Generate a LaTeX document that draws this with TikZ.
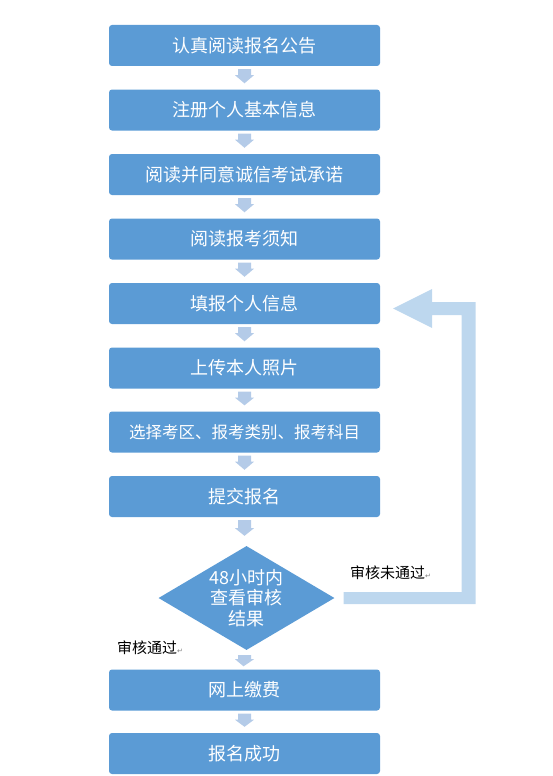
\documentclass[tikz,border=0pt]{standalone}
\usepackage{fontspec}
\newfontfamily\cjk{Noto Sans CJK SC}
\newfontfamily\djv{DejaVu Sans}
\usetikzlibrary{shapes.geometric,calc}
\definecolor{boxblue}{HTML}{5B9BD5}
\definecolor{arrblue}{HTML}{B4CBE8}
\definecolor{backblue}{HTML}{BDD7EE}
\tikzset{
  stepbox/.style={fill=boxblue, rounded corners=3pt, minimum width=271pt, minimum height=41pt, inner sep=0pt, text=white, font=\cjk\fontsize{18}{20}\selectfont},
  dia/.style={shape=diamond, fill=boxblue, minimum width=176pt, minimum height=104pt, inner sep=0pt},
  wtext/.style={text=white, align=center, font=\cjk\fontsize{18}{20.5}\selectfont},
  lbl/.style={text=black, font=\cjk\fontsize{15}{16}\selectfont, inner sep=0pt},
}
\newcommand{\retmark}{{\djv\fontsize{7}{8}\selectfont\textcolor{gray}{↵}}}
\newcommand{\blockarrow}[2]{%
  \fill[arrblue] ($(#1.south)+(-6.5,3)$) -- ($(#1.south)+(6.5,3)$) -- ($(#1.south)+(6.5,9)$) -- ($(#1.south)+(9.5,9)$) -- ($(#2.north)+(0,-6)$) -- ($(#1.south)+(-9.5,9)$) -- ($(#1.south)+(-6.5,9)$) -- cycle;}
\begin{document}
\begin{tikzpicture}[x=1pt,y=-1pt]
\useasboundingbox (0,0) rectangle (553,776);
\node[stepbox] (n1) at (244.5,45.5) {认真阅读报名公告};
\node[stepbox] (n2) at (244.5,110) {注册个人基本信息};
\node[stepbox] (n3) at (244.5,174.5) {阅读并同意诚信考试承诺};
\node[stepbox] (n4) at (244.5,239) {阅读报考须知};
\node[stepbox] (n5) at (244.5,303.5) {填报个人信息};
\node[stepbox] (n6) at (244.5,368) {上传本人照片};
\node[stepbox, font=\cjk\fontsize{16.5}{20}\selectfont] (n7) at (244.5,432) {选择考区、报考类别、报考科目};
\node[stepbox] (n8) at (244.5,496.5) {提交报名};
\node[dia] (d) at (246.5,598) {};
\node[wtext] (dt) at (d) {48小时内\\查看审核\\结果};
\node[stepbox] (n9) at (244.5,690) {网上缴费};
\node[stepbox] (n10) at (244.5,753.5) {报名成功};
\blockarrow{n1}{n2}
\blockarrow{n2}{n3}
\blockarrow{n3}{n4}
\blockarrow{n4}{n5}
\blockarrow{n5}{n6}
\blockarrow{n6}{n7}
\blockarrow{n7}{n8}
\fill[arrblue] ($(d.south)+(-8.5,5)$) -- ($(d.south)+(4.5,5)$) -- ($(d.south)+(4.5,9)$) -- ($(d.south)+(7.5,9)$) -- ($(n9.north)+(-1,-3)$) -- ($(d.south)+(-11.5,9)$) -- ($(d.south)+(-8.5,9)$) -- cycle;
\fill[arrblue] ($(n8.south)+(-6.5,3)$) -- ($(n8.south)+(6.5,3)$) -- ($(n8.south)+(6.5,11)$) -- ($(n8.south)+(9.5,11)$) -- ($(d.north)+(-2,-10)$) -- ($(n8.south)+(-9.5,11)$) -- ($(n8.south)+(-6.5,11)$) -- cycle;
\blockarrow{n9}{n10}
% feedback arrow
\coordinate (s1) at ($(d.east)+(9,-6)$);
\coordinate (s2) at ($(d.east)+(9,6)$);
\coordinate (t) at ($(n5.east)+(13,5)$);
\coordinate (vi) at ($(s1)+(118,0)$);
\coordinate (vo) at ($(s2)+(132,0)$);
\coordinate (hbot) at ($(t)+(39,6.5)$);
\coordinate (htop) at ($(t)+(39,-6.5)$);
\fill[backblue] (s1) -- (vi) -- (vi |- hbot) -- (hbot) -- ($(t)+(39,19.5)$) -- (t) -- ($(t)+(39,-19.5)$) -- (htop) -- (vo |- htop) -- (vo) -- (s2) -- cycle;
\node[lbl, anchor=west] (l1) at (350,573) {审核未通过\retmark};
\node[lbl, anchor=west] (l2) at (117,648) {审核通过\retmark};
\end{tikzpicture}
\end{document}
